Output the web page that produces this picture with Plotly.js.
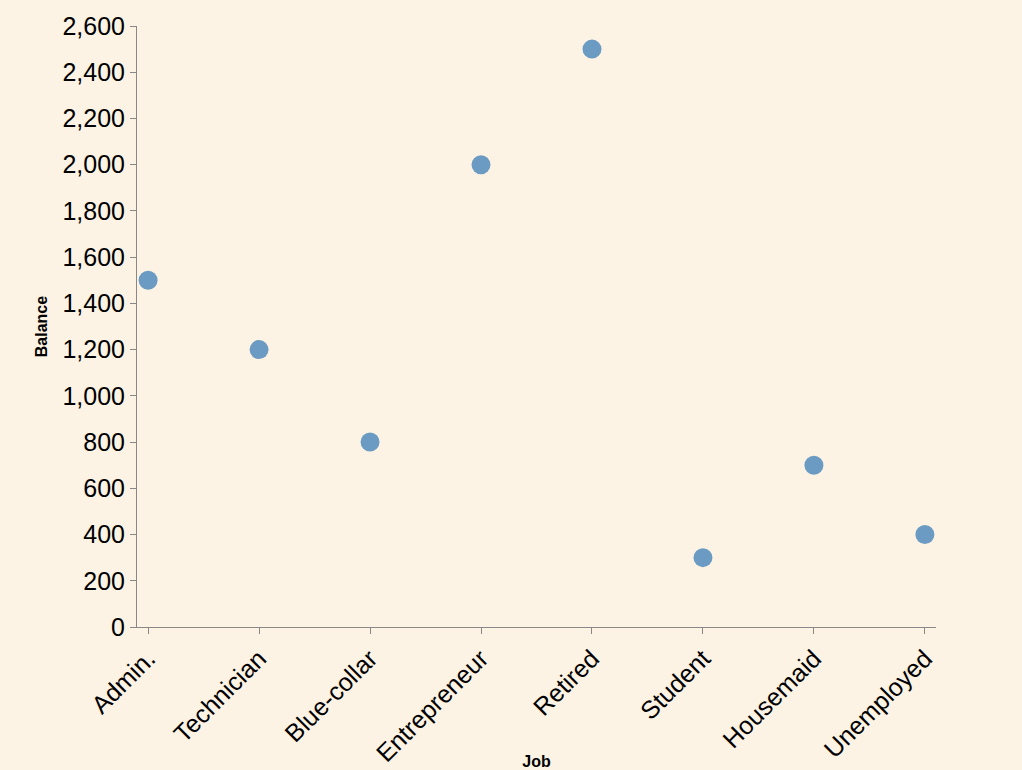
<!DOCTYPE html>
<html>
<head>
<script src="https://cdn.plot.ly/plotly-3.0.1.min.js"></script>
<style>body{margin:0;background:#fdf3e4;}</style>
</head>
<body>
<div id="chart" style="width:1022px;height:770px;"></div>
<script>
const jobs = ['Admin.', 'Technician', 'Blue-collar', 'Entrepreneur', 'Retired', 'Student', 'Housemaid', 'Unemployed'];
const balance = [1500, 1200, 800, 2000, 2500, 300, 700, 400];

const axisFont = { family: 'Liberation Sans, Arial', size: 25, color: '#000' };

Plotly.newPlot('chart', [{
    x: jobs,
    y: balance,
    mode: 'markers',
    type: 'scatter',
    marker: { size: 19, color: '#6b9bc3', line: { width: 0 } },
}], {
    width: 1022,
    height: 770,
    margin: { l: 137, r: 86, t: 26, b: 143 },
    paper_bgcolor: '#fdf3e4',
    plot_bgcolor: '#fdf3e4',
    showlegend: false,
    xaxis: {
        range: [-0.1, 7.1],
        tickangle: -45,
        tickfont: axisFont,
        showgrid: false,
        zeroline: false,
        showline: true,
        linecolor: '#888',
        ticks: 'outside',
        tickcolor: '#888',
        ticklen: 6,
        title: { text: '<b>Job</b>', font: { family: 'Liberation Sans, Arial', size: 16, color: '#000' }, standoff: 2 },
    },
    yaxis: {
        range: [0, 2600],
        dtick: 200,
        tickformat: ',',
        tickfont: axisFont,
        showgrid: false,
        zeroline: false,
        showline: true,
        linecolor: '#888',
        ticks: 'outside',
        tickcolor: '#888',
        ticklen: 6,
        title: { text: '<b>Balance</b>', font: { family: 'Liberation Sans, Arial', size: 16, color: '#000' }, standoff: 10 },
    },
}, { displayModeBar: false });
</script>
</body>
</html>
